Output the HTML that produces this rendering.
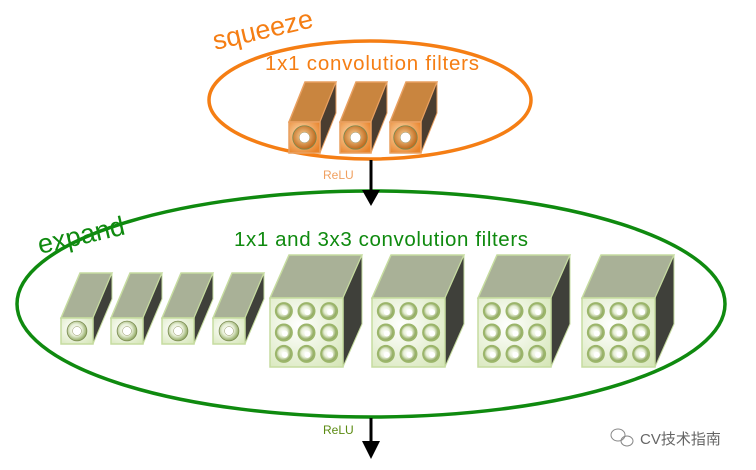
<!DOCTYPE html>
<html><head><meta charset="utf-8"><style>
html,body{margin:0;padding:0;background:#fff;width:756px;height:470px;overflow:hidden}
svg{display:block}
text{font-family:"Liberation Sans","Noto Sans CJK SC",sans-serif}
</style></head><body>
<svg id="s" width="756" height="470" viewBox="0 0 756 470" xmlns="http://www.w3.org/2000/svg">
<defs>
<radialGradient id="og" cx="0.4" cy="0.4" r="0.7"><stop offset="0" stop-color="#fde0b8"/><stop offset="1" stop-color="#e8832a"/></radialGradient>
<radialGradient id="gg" cx="0.4" cy="0.4" r="0.8"><stop offset="0" stop-color="#ffffff"/><stop offset="1" stop-color="#d6e6b8"/></radialGradient>
<radialGradient id="knob" cx="0.45" cy="0.45" r="0.6"><stop offset="0" stop-color="#ffffff"/><stop offset="0.5" stop-color="#e8f0d8"/><stop offset="1" stop-color="#7f9a4a"/></radialGradient>
<radialGradient id="oknob" cx="0.45" cy="0.45" r="0.6"><stop offset="0" stop-color="#ffd9a0"/><stop offset="1" stop-color="#b85e10"/></radialGradient>
</defs>
<ellipse cx="370" cy="100" rx="161" ry="59" fill="none" stroke="#f57e14" stroke-width="3.5"/>
<ellipse cx="371" cy="304" rx="354" ry="113" fill="none" stroke="#0f8a0f" stroke-width="3.5"/>
<text x="215" y="50" font-size="27" fill="#f57e14" transform="rotate(-13 215 50)">squeeze</text>
<text x="372" y="70" font-size="20.5" fill="#f57e14" text-anchor="middle" textLength="214">1x1 convolution filters</text>
<text x="40" y="254" font-size="27" fill="#0f8a0f" transform="rotate(-13 40 254)">expand</text>
<text x="381" y="246" font-size="20.5" fill="#0f8a0f" text-anchor="middle" textLength="294">1x1 and 3x3 convolution filters</text>
<text x="323" y="179" font-size="12" fill="#f0a060">ReLU</text>
<text x="323" y="434" font-size="12" fill="#5a8a10">ReLU</text>
<line x1="371" y1="160" x2="371" y2="190" stroke="#000" stroke-width="3"/>
<polygon points="362,190 380,190 371,206" fill="#000"/>
<line x1="371" y1="418" x2="371" y2="442" stroke="#000" stroke-width="3"/>
<polygon points="362,441 380,441 371,459" fill="#000"/>
<g id="boxes"></g>
<text x="640" y="444" font-size="15" fill="#666">CV技术指南</text>
<g fill="none" stroke="#888" stroke-width="1"><ellipse cx="618" cy="435" rx="7" ry="6"/><ellipse cx="627" cy="441" rx="6" ry="5"/></g>
</svg>
<script>
var g=document.getElementById('boxes'),ns="http://www.w3.org/2000/svg";
function el(t,a){var e=document.createElementNS(ns,t);for(var k in a)e.setAttribute(k,a[k]);g.appendChild(e);return e;}
function box(x,y,w,h,dx,dy,top,side,front,edge,n,kn){
 el('polygon',{points:[x,y,x+dx,y+dy,x+w+dx,y+dy,x+w,y].join(' '),fill:top,stroke:edge,'stroke-width':1.5});
 el('polygon',{points:[x+w,y,x+w+dx,y+dy,x+w+dx,y+h+dy,x+w,y+h].join(' '),fill:side,stroke:edge,'stroke-width':1});
 el('rect',{x:x,y:y,width:w,height:h,fill:front,stroke:edge,'stroke-width':1.5});
 if(n==1){el('circle',{cx:x+w/2,cy:y+h/2,r:Math.min(w,h)*0.38,fill:kn,stroke:'#7a8a50','stroke-width':0.8});el('circle',{cx:x+w/2,cy:y+h/2,r:Math.min(w,h)*0.17,fill:'#fff',stroke:'#9a9a70','stroke-width':0.5});}
 else{for(var i=0;i<3;i++)for(var j=0;j<3;j++){var cx=x+w*(0.19+0.31*j),cy=y+h*(0.19+0.31*i);
  el('circle',{cx:cx,cy:cy,r:9,fill:'#9bb56a'});el('circle',{cx:cx,cy:cy,r:7,fill:'url(#knob)'});el('circle',{cx:cx+1,cy:cy+1,r:3,fill:'#fff'});}}
}
[289,340,390].forEach(function(x){box(x,122,31,31,16,-40,'#c9853f','#4a3d30','url(#og)','#e9a060',1,'url(#oknob)');});
[61,111,162,213].forEach(function(x){box(x,318,32,26,19,-45,'#a9b197','#3f403a','url(#gg)','#c6dca0',1,'url(#knob)');});
[270,372,478,582].forEach(function(x){box(x,298,73,69,19,-43,'#a9b197','#3f403a','url(#gg)','#c6dca0',9);});
</script>
</body></html>
